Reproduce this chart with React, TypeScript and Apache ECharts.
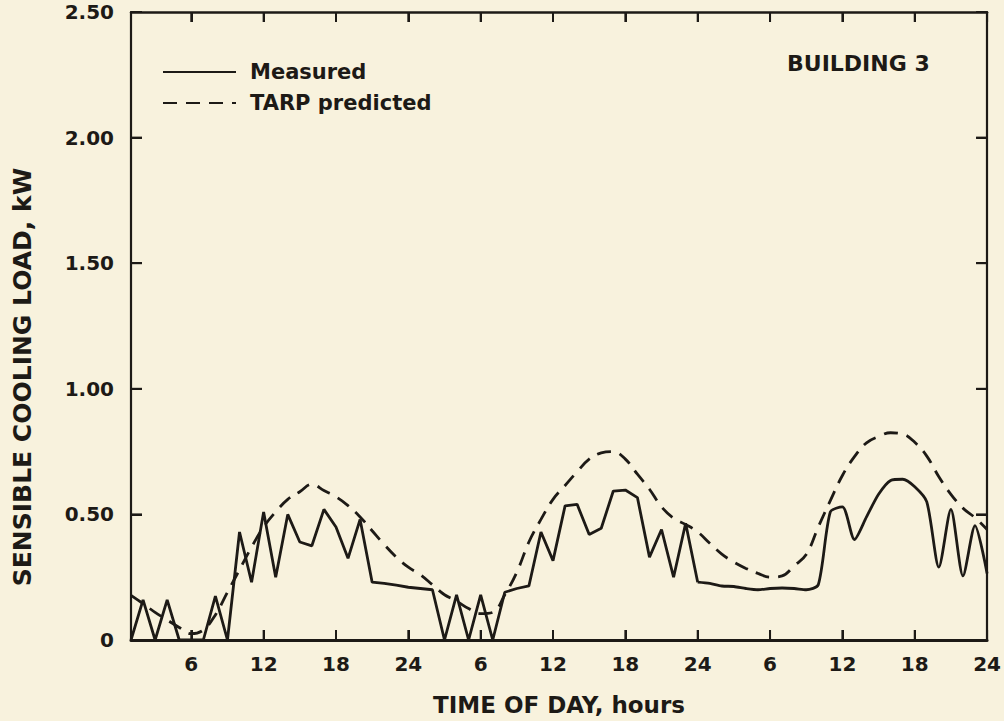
import React, { useEffect, useRef } from "react";
import * as echarts from "echarts";

// Hourly values (hour 1..24 of each day), kW
const measuredDay1 = [0, 0.16, 0, 0.16, 0, 0, 0, 0.175, 0, 0.43, 0.23, 0.51, 0.25, 0.5, 0.39, 0.375, 0.52, 0.45, 0.325, 0.48, 0.23, 0.225, 0.218, 0.21];
const measuredDay2 = [0.205, 0.2, 0, 0.18, 0, 0.18, 0, 0.19, 0.205, 0.215, 0.43, 0.316, 0.534, 0.54, 0.42, 0.445, 0.593, 0.597, 0.567, 0.33, 0.44, 0.25, 0.465, 0.23];
const measuredDay3 = [0.225, 0.215, 0.213, 0.205, 0.2, 0.205, 0.207, 0.205, 0.2, 0.22, 0.51, 0.53, 0.4, 0.49, 0.58, 0.635, 0.64, 0.61, 0.55, 0.29, 0.52, 0.255, 0.455, 0.265];

const tarpDay1 = [0.178, 0.145, 0.11, 0.08, 0.05, 0.025, 0.04, 0.1, 0.19, 0.28, 0.37, 0.45, 0.51, 0.56, 0.59, 0.62, 0.595, 0.57, 0.535, 0.49, 0.435, 0.38, 0.33, 0.29];
const tarpDay2 = [0.26, 0.22, 0.18, 0.155, 0.125, 0.105, 0.11, 0.18, 0.27, 0.39, 0.48, 0.56, 0.615, 0.67, 0.72, 0.745, 0.75, 0.72, 0.66, 0.6, 0.53, 0.485, 0.46, 0.43];
const tarpDay3 = [0.385, 0.342, 0.31, 0.285, 0.265, 0.25, 0.255, 0.295, 0.34, 0.45, 0.555, 0.655, 0.73, 0.785, 0.81, 0.825, 0.82, 0.787, 0.732, 0.65, 0.58, 0.525, 0.487, 0.44];

const xTickHours = [6, 12, 18, 24, 30, 36, 42, 48, 54, 60, 66, 72];
const yTickValues = [0.5, 1, 1.5, 2];

const seriesNames = ["Measured", "TARP predicted"];
const title = "BUILDING 3";
const xName = "TIME OF DAY, hours";
const yName = "SENSIBLE COOLING LOAD, kW";

const X_MIN = 1;
const X_MAX = 72;
const Y_MIN = 0;
const Y_MAX = 2.5;

const INK = "#1d1a16";
const BG = "#f8f2dd";
const FONT = "'DejaVu Sans', sans-serif";

function toPairs(days: number[][]): [number, number][] {
  const out: [number, number][] = [];
  days.forEach((d, di) => d.forEach((v, i) => out.push([di * 24 + i + 1, v])));
  return out;
}

export default function App() {
  const ref = useRef<HTMLDivElement>(null);
  useEffect(() => {
    document.body.style.margin = "0";
    const chart = echarts.init(ref.current!, null, { renderer: "svg" });
    const measured = toPairs([measuredDay1, measuredDay2, measuredDay3]);
    const measuredA = measured.filter((p) => p[0] <= 48);
    const measuredB = measured.filter((p) => p[0] >= 48);
    const tarp = toPairs([tarpDay1, tarpDay2, tarpDay3]);

    const TICK = 10;

    chart.setOption({
      animation: false,
      backgroundColor: BG,
      grid: { left: 131, right: 12, top: 12, bottom: 78 },
      legend: {
        left: 157,
        top: 56,
        orient: "vertical",
        itemWidth: 73,
        itemHeight: 14,
        itemGap: 9,
        data: seriesNames,
        itemStyle: { opacity: 0 },
        textStyle: { fontSize: 21, fontWeight: "bold", color: INK, fontFamily: FONT, padding: [0, 0, 0, 9], lineHeight: 22 },
        selectedMode: false,
      },
      xAxis: [
        {
          type: "value",
          min: X_MIN,
          max: X_MAX,
          name: xName,
          nameLocation: "middle",
          nameGap: 53,
          nameTextStyle: { fontSize: 23, fontWeight: "bold", color: INK, fontFamily: FONT },
          axisLine: { show: true, onZero: false, lineStyle: { color: INK, width: 3 } },
          axisTick: { show: true, inside: true, length: TICK, customValues: xTickHours, lineStyle: { color: INK, width: 2 } },
          axisLabel: {
            customValues: xTickHours,
            margin: 14,
            fontSize: 20,
            fontWeight: "bold",
            color: INK,
            fontFamily: FONT,
            formatter: (v: number) => String(v % 24 === 0 ? 24 : v % 24),
          },
          splitLine: { show: false },
        },
        {
          type: "value",
          min: X_MIN,
          max: X_MAX,
          position: "top",
          axisLine: { show: true, onZero: false, lineStyle: { color: INK, width: 2.5 } },
          axisTick: { show: true, inside: true, length: TICK, customValues: xTickHours, lineStyle: { color: INK, width: 2 } },
          axisLabel: { show: false },
          splitLine: { show: false },
        },
      ],
      yAxis: [
        {
          type: "value",
          min: Y_MIN,
          max: Y_MAX,
          interval: 0.5,
          axisLine: { show: true, onZero: false, lineStyle: { color: INK, width: 2.2 } },
          axisTick: { show: true, inside: true, length: TICK + 1, lineStyle: { color: INK, width: 2 } },
          axisLabel: {
            margin: 17,
            fontSize: 20,
            fontWeight: "bold",
            color: INK,
            fontFamily: FONT,
            formatter: (v: number) => (v === 0 ? "0" : v.toFixed(2)),
          },
          splitLine: { show: false },
        },
        {
          type: "value",
          min: Y_MIN,
          max: Y_MAX,
          interval: 0.5,
          position: "right",
          axisLine: { show: true, onZero: false, lineStyle: { color: INK, width: 2.2 } },
          axisTick: { show: true, inside: true, length: TICK + 1, lineStyle: { color: INK, width: 2 } },
          axisLabel: { show: false },
          splitLine: { show: false },
        },
      ],
      graphic: [
        {
          type: "text",
          left: 787,
          top: 52,
          style: { text: title, fontSize: 22, fontWeight: "bold", fill: INK, fontFamily: FONT },
        },
        {
          type: "text",
          x: 22,
          y: 377,
          rotation: Math.PI / 2,
          style: { text: yName, fontSize: 25, fontWeight: "bold", fill: INK, fontFamily: FONT, align: "center", verticalAlign: "middle" },
        },
      ],
      series: [
        {
          name: seriesNames[0],
          type: "line",
          data: measuredA,
          symbol: "none",
          lineStyle: { color: INK, width: 2.8 },
          itemStyle: { color: INK },
        },
        {
          name: seriesNames[0],
          type: "line",
          data: measuredB,
          symbol: "none",
          smooth: 0.25,
          lineStyle: { color: INK, width: 2.8 },
          itemStyle: { color: INK },
        },
        {
          name: seriesNames[1],
          type: "line",
          data: tarp,
          symbol: "none",
          smooth: 0.4,
          lineStyle: { color: INK, width: 2.8, type: [14, 9] },
          itemStyle: { color: INK },
        },
        {
          // inward tick marks on bottom and top axes (backup for axis ticks)
          type: "custom",
          data: xTickHours.map((h) => [h, Y_MIN]),
          renderItem: (_p: any, api: any) => {
            const h = api.value(0);
            const b = api.coord([h, Y_MIN]);
            const t = api.coord([h, Y_MAX]);
            return {
              type: "group",
              children: [
                { type: "rect", shape: { x: b[0] - 1, y: b[1] - TICK, width: 2, height: TICK }, style: { fill: INK } },
                { type: "rect", shape: { x: t[0] - 1, y: t[1], width: 2, height: TICK }, style: { fill: INK } },
              ],
            };
          },
        },
        {
          // inward tick marks on left and right axes (backup for axis ticks)
          type: "custom",
          data: yTickValues.map((v) => [X_MIN, v]),
          renderItem: (_p: any, api: any) => {
            const v = api.value(1);
            const l = api.coord([X_MIN, v]);
            const r = api.coord([X_MAX, v]);
            return {
              type: "group",
              children: [
                { type: "rect", shape: { x: l[0], y: l[1] - 1, width: TICK + 1, height: 2 }, style: { fill: INK } },
                { type: "rect", shape: { x: r[0] - TICK - 1, y: r[1] - 1, width: TICK + 1, height: 2 }, style: { fill: INK } },
              ],
            };
          },
        },
      ],
    });
    return () => chart.dispose();
  }, []);
  return <div ref={ref} style={{ width: 1004, height: 721, background: BG }} />;
}
